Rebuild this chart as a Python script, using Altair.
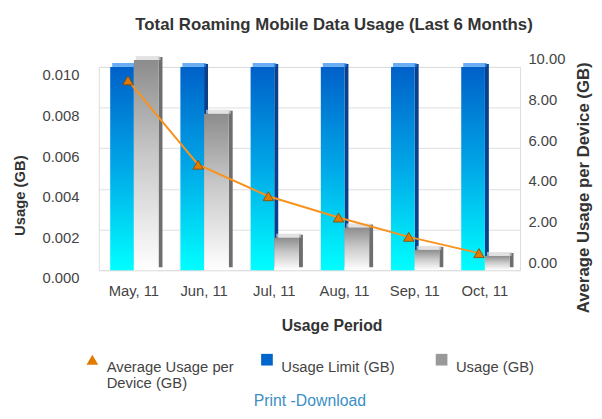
import altair as alt
import pandas as pd

months = ["May, 11", "Jun, 11", "Jul, 11", "Aug, 11", "Sep, 11", "Oct, 11"]
usage_limit = [0.010, 0.010, 0.010, 0.010, 0.010, 0.010]
usage = [0.01034, 0.0077, 0.0016, 0.0021, 0.0010, 0.0007]
avg_usage = [9.0, 4.85, 3.3, 2.25, 1.3, 0.5]
series_names = ["Average Usage per Device (GB)", "Usage Limit (GB)", "Usage (GB)"]
legend_colors = ["#e07b00", "#0066cc", "#999999"]
legend_shapes = ["triangle-up", "square", "square"]

df = pd.DataFrame({"month": months, "limit": usage_limit, "usage": usage, "avg": avg_usage})

FONT = "Liberation Sans"
FS = 15

x_enc = alt.X("month:N", sort=months,
              scale=alt.Scale(paddingInner=0.0, paddingOuter=0.0),
              axis=alt.Axis(title="Usage Period", labelAngle=0, ticks=False, domain=False,
                            labelPadding=14, labelFontSize=FS, labelColor="#444",
                            titleFontSize=16, titleColor="#333", titleFontWeight="bold",
                            titlePadding=19, titleX=236, labelFont=FONT, titleFont=FONT, grid=False))

left_axis = alt.Axis(title="Usage (GB)", format=".3f", values=[0, 0.002, 0.004, 0.006, 0.008, 0.010],
                     ticks=False, domain=False, labelPadding=20, labelOffset=8,
                     labelFontSize=FS, labelColor="#444", labelFont=FONT,
                     titleFont=FONT, titleFontSize=FS, titleColor="#333", titleFontWeight="bold",
                     titleX=-80, titleY=130, titleAlign="center", titleBaseline="middle",
                     grid=True, gridColor="#dddddd")
left_scale = alt.Scale(domain=[0, 0.010], nice=False)

right_axis = alt.Axis(title="Average Usage per Device (GB)", orient="right", format=".2f",
                      values=[0, 2, 4, 6, 8, 10], ticks=False, domain=False, labelPadding=8,
                      labelOffset=-8, labelFontSize=FS, labelColor="#444", labelFont=FONT,
                      titleFont=FONT, titleFontSize=17, titleColor="#333", titleFontWeight="bold",
                      titleAngle=270, titleX=64, titleY=122, titleAlign="center",
                      titleBaseline="middle", grid=False)
right_scale = alt.Scale(domain=[0, 10], nice=False)

blue_grad = alt.Gradient(gradient="linear", x1=0, x2=0, y1=1, y2=0,
                         stops=[alt.GradientStop(color="#00ffff", offset=0),
                                alt.GradientStop(color="#00a8e8", offset=0.5),
                                alt.GradientStop(color="#0060c8", offset=1)])
gray_grad = alt.Gradient(gradient="linear", x1=0, x2=0, y1=1, y2=0,
                         stops=[alt.GradientStop(color="#ffffff", offset=0),
                                alt.GradientStop(color="#c8c8c8", offset=0.55),
                                alt.GradientStop(color="#8c8c8c", offset=1)])

base = alt.Chart(df)

blue_side = base.mark_bar(width=4, xOffset=2, yOffset=-3, color="#0a3f8c").encode(
    x=x_enc, y=alt.Y("limit:Q", scale=left_scale, axis=left_axis))
blue_cap = base.mark_tick(size=24, thickness=4, xOffset=-10, yOffset=-2, color="#2a8cf0").encode(
    x=x_enc, y=alt.Y("limit:Q", scale=left_scale, axis=left_axis))
blue = base.mark_bar(width=24, xOffset=-12, color=blue_grad).encode(
    x=x_enc, y=alt.Y("limit:Q", scale=left_scale, axis=left_axis))

gray_side = base.mark_bar(width=4, xOffset=27, yOffset=-3, color="#6e6e6e").encode(
    x=x_enc, y=alt.Y("usage:Q", scale=left_scale, axis=left_axis))
gray_cap = base.mark_tick(size=25, thickness=4, xOffset=14.5, yOffset=-2, color="#d6d6d6").encode(
    x=x_enc, y=alt.Y("usage:Q", scale=left_scale, axis=left_axis))
gray = base.mark_bar(width=25, xOffset=12.5, color=gray_grad).encode(
    x=x_enc, y=alt.Y("usage:Q", scale=left_scale, axis=left_axis))

bars = alt.layer(blue_side, blue_cap, blue, gray_side, gray_cap, gray)

legend_kw = dict(title=None, orient="none", legendX=-14, legendY=289,
                 direction="horizontal", columns=3, columnPadding=26, gridAlign="all",
                 symbolSize=140, symbolStrokeWidth=0, labelBaseline="top",
                 labelFontSize=FS, labelColor="#444", labelFont=FONT,
                 labelLimit=240, labelOffset=7,
                 labelExpr=("datum.label == 'Average Usage per Device (GB)' ? ['Average Usage per', 'Device (GB)'] : "
                            "[datum.label, '']"))

line = base.mark_line(color="#f7931e", strokeWidth=2, xOffset=-6, yOffset=-7).encode(
    x=x_enc, y=alt.Y("avg:Q", scale=right_scale, axis=right_axis))
points = base.transform_calculate(series="'Average Usage per Device (GB)'").mark_point(
    filled=True, size=110, opacity=1, stroke="#8a4500", strokeWidth=0.8,
    xOffset=-6, yOffset=-7).encode(
    x=x_enc, y=alt.Y("avg:Q", scale=right_scale, axis=right_axis),
    color=alt.Color("series:N", scale=alt.Scale(domain=series_names, range=legend_colors),
                    legend=alt.Legend(**legend_kw)),
    shape=alt.Shape("series:N", scale=alt.Scale(domain=series_names, range=legend_shapes),
                    legend=alt.Legend(**legend_kw)))
avg_layer = alt.layer(line, points)

link = alt.Chart(pd.DataFrame({"t": ["Print -Download"]})).mark_text(
    fontSize=16, color="#3b8fc6", font=FONT, baseline="middle").encode(
    text="t:N", x=alt.value(214), y=alt.value(339))

chart = alt.layer(bars, avg_layer, link).resolve_scale(y="independent").properties(
    width=427, height=206,
    title=alt.TitleParams("Total Roaming Mobile Data Usage (Last 6 Months)", fontSize=17,
                          fontWeight="bold", color="#333", font=FONT, offset=18, dx=25),
    autosize=alt.AutoSizeParams(type="none"),
    padding={"left": 92, "top": 57, "right": 75, "bottom": 140},
).configure_view(stroke="#d0d0d0", strokeWidth=1).configure(background="white")

chart.save("out.html", embed_options={"renderer": "svg", "actions": False})
